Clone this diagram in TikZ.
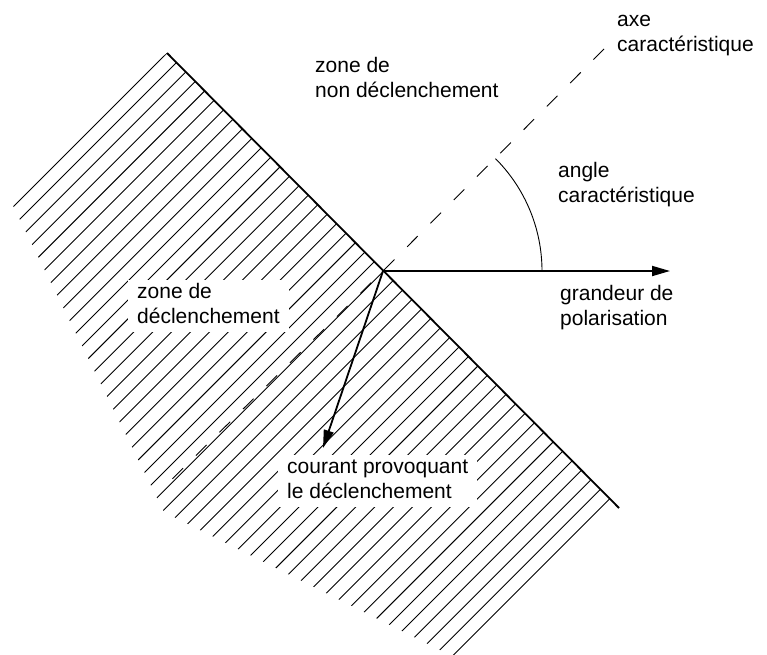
\documentclass[tikz,border=0pt]{standalone}
\usepackage{fontspec}
\setmainfont{Liberation Sans}
\usetikzlibrary{arrows.meta,calc}

\begin{document}
\begin{tikzpicture}[x=1pt,y=-1pt,
  lbl/.style={anchor=base west, fill=white, inner xsep=9pt, inner ysep=1pt,
              font=\fontsize{21}{25}\selectfont},
  hatchline/.style={line width=0.9pt},
  boundary/.style={line width=1.8pt},
  vec/.style={line width=1.8pt, -{Triangle[length=18pt,width=10pt]}},
  axisline/.style={line width=0.9pt, dash pattern=on 15pt off 18pt},
  anglearc/.style={line width=0.9pt},
]
\useasboundingbox (0,0) rectangle (767,654);

% key points
\coordinate (O) at (383,271);
\coordinate (A) at (167,53);
\coordinate (E) at (619,508);
\coordinate (U) at (604,49);
\coordinate (D) at (163,488);
\coordinate (gtip) at (670,271);
\coordinate (ctip) at (323,448);

% hatched tripping zone
\begin{scope}
  \clip (0,0) rectangle (767,654);
  \clip (A) -- (E) -- (480,670) -- (164,512) -- (5,189.5) -- cycle;
  \foreach \i in {0,...,47} {
    \draw[hatchline] ($(A)!\i*0.02085!(E)$) -- ++(-420,420);
  }
\end{scope}

% labels
\node[lbl] (axe) at (608,26)
  {\begin{tabular}[t]{@{}l@{}}axe\\caractéristique\end{tabular}};
\node[lbl] (nontrip) at (306,72)
  {\begin{tabular}[t]{@{}l@{}}zone de\\non déclenchement\end{tabular}};
\node[lbl] (angle) at (549,177)
  {\begin{tabular}[t]{@{}l@{}}angle\\caractéristique\end{tabular}};
\node[lbl] (pol) at (551,300)
  {\begin{tabular}[t]{@{}l@{}}grandeur de\\polarisation\end{tabular}};
\node[lbl] (trip) at (128,298)
  {\begin{tabular}[t]{@{}l@{}}zone de\\déclenchement\end{tabular}};
\node[lbl] (cur) at (278,473)
  {\begin{tabular}[t]{@{}l@{}}courant provoquant\\le déclenchement\end{tabular}};

% characteristic axis
\draw[axisline] (U) -- (O) -- (D);

% boundary of the tripping zone
\draw[boundary] (A) -- (E);

% characteristic angle
\draw[anglearc] (542,271) arc[start angle=0, end angle=-45, radius=159];

% polarising quantity and tripping current
\draw[vec] (O) -- (gtip);
\draw[vec] (O) -- (ctip);
\end{tikzpicture}
\end{document}
